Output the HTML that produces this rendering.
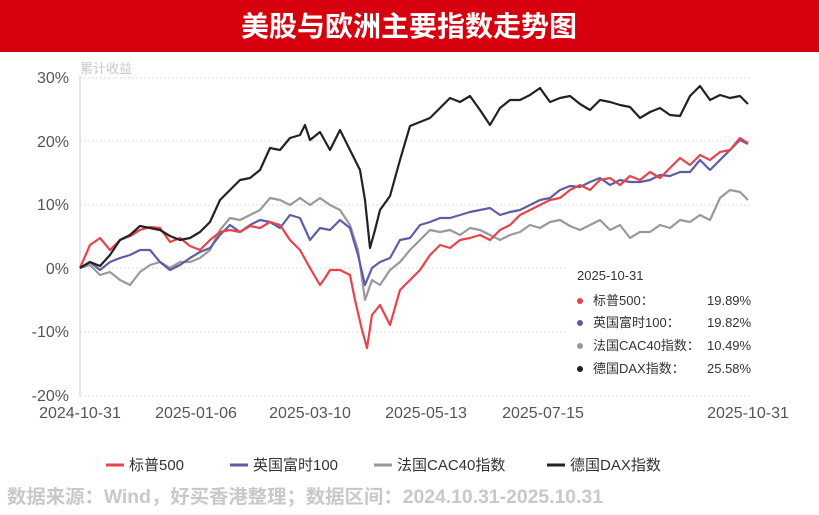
<!DOCTYPE html><html><head><meta charset="utf-8"><style>
body{margin:0;width:819px;height:510px;background:#fff;overflow:hidden;font-family:"Liberation Sans","Noto Sans CJK SC",sans-serif}
</style></head><body>
<svg width="819" height="510" xmlns="http://www.w3.org/2000/svg" font-family="Liberation Sans, Noto Sans CJK SC, sans-serif">
<rect x="0" y="0" width="819" height="52" fill="#d7000f"/>
<text x="409" y="36" text-anchor="middle" fill="#fff" font-size="28" font-weight="bold">美股与欧洲主要指数走势图</text>
<text x="80" y="73" fill="#c8c8c8" font-size="13">累计收益</text>
<g stroke="#ddd" stroke-dasharray="2,2" stroke-width="1">
<line x1="80" x2="750" y1="78" y2="78"/><line x1="80" x2="750" y1="141" y2="141"/><line x1="80" x2="750" y1="205" y2="205"/><line x1="80" x2="750" y1="268" y2="268"/><line x1="80" x2="750" y1="332" y2="332"/><line x1="80" x2="750" y1="396" y2="396"/>
</g>
<line x1="80" x2="80" y1="76" y2="396" stroke="#ddd" stroke-width="1.5"/>
<g fill="#555" font-size="16" text-anchor="end">
<text x="69" y="83">30%</text><text x="69" y="147">20%</text><text x="69" y="210">10%</text><text x="69" y="274">0%</text><text x="69" y="337">-10%</text><text x="69" y="401">-20%</text></g>
<g fill="#555" font-size="16" text-anchor="middle">
<text x="80" y="418">2024-10-31</text><text x="196" y="418">2025-01-06</text><text x="310" y="418">2025-03-10</text><text x="426" y="418">2025-05-13</text><text x="543" y="418">2025-07-15</text><text x="748" y="418">2025-10-31</text></g>
<g fill="none" stroke-width="2.2" stroke-linejoin="round">
<polyline stroke="#999" points="80,268 90,265 100,275 110,272 120,280 130,285 140,272 150,265 160,262 170,268 180,262 190,262 200,258 210,250 220,230 230,218 240,220 250,215 260,210 270,198 280,200 290,205 300,198 310,205 320,198 330,205 340,210 350,225 358,250 365,300 372,280 380,285 390,270 400,262 410,250 420,240 430,230 440,232 450,230 460,235 470,228 480,230 490,235 500,240 510,235 520,232 530,225 540,228 550,222 560,220 570,226 580,230 590,225 600,220 610,230 620,225 630,238 640,232 650,232 660,225 670,228 680,220 690,222 700,215 710,220 720,198 730,190 740,192 748,200"/>
<polyline stroke="#5b5ea6" points="80,268 90,262 100,270 110,262 120,258 130,255 140,250 150,250 160,262 170,270 180,265 190,258 200,252 210,248 220,235 230,225 240,232 250,225 260,220 270,222 280,228 290,215 300,218 310,240 320,228 330,230 340,220 350,228 358,255 365,285 372,268 380,262 390,258 400,240 410,238 420,225 430,222 440,218 450,218 460,215 470,212 480,210 490,208 500,215 510,212 520,210 530,205 540,200 550,198 560,190 570,186 580,187 590,182 600,178 610,185 620,180 630,182 640,182 650,180 660,175 670,176 680,172 690,172 700,160 710,170 720,160 730,150 740,140 748,144"/>
<polyline stroke="#e8424a" points="80,268 90,245 100,238 110,250 120,240 130,236 140,230 150,227 160,228 170,242 180,238 190,246 200,250 210,240 220,232 230,230 240,232 250,226 260,228 270,222 280,225 290,240 300,250 310,268 320,285 325,278 330,270 340,270 350,275 355,300 362,330 367,348 372,315 380,305 390,325 400,290 410,280 420,270 430,255 440,245 450,248 460,240 470,238 480,235 490,240 500,230 510,225 520,215 530,210 540,205 550,200 560,198 570,190 580,185 590,190 600,180 610,178 620,185 630,176 640,180 650,172 660,178 670,168 680,158 690,165 700,155 710,160 720,152 730,150 740,138 748,143"/>
<polyline stroke="#222" points="80,268 90,262 100,266 110,255 120,240 130,235 140,226 150,228 160,230 170,236 180,240 190,238 200,232 210,222 220,200 230,190 240,180 250,178 260,170 270,148 280,150 290,138 300,135 305,125 310,140 320,132 330,150 340,130 350,150 355,160 360,170 365,200 370,248 375,230 380,210 390,196 400,160 410,126 420,122 430,118 440,108 450,98 460,102 470,96 480,110 490,125 500,108 510,100 520,100 530,95 540,88 550,102 560,98 570,96 580,104 590,110 600,100 610,102 620,105 630,107 640,118 650,112 660,108 670,115 680,116 690,96 700,86 710,100 720,95 730,98 740,96 748,104"/>
</g>
<rect x="566" y="262" width="196" height="132" fill="#fff" fill-opacity="0.9"/>
<g font-size="13" fill="#333">
<text x="577" y="280">2025-10-31</text>
<circle cx="580" cy="301" r="3" fill="#e8424a"/><text x="593" y="305">标普500：</text><text x="707" y="305">19.89%</text>
<circle cx="580" cy="323" r="3" fill="#5b5ea6"/><text x="593" y="327">英国富时100：</text><text x="707" y="327">19.82%</text>
<circle cx="580" cy="346" r="3" fill="#999"/><text x="593" y="350">法国CAC40指数：</text><text x="707" y="350">10.49%</text>
<circle cx="580" cy="369" r="3" fill="#222"/><text x="593" y="373">德国DAX指数：</text><text x="707" y="373">25.58%</text>
</g>
<g font-size="15" fill="#333">
<line x1="106" x2="124" y1="465" y2="465" stroke="#e8424a" stroke-width="3"/><text x="129" y="470">标普500</text>
<line x1="230" x2="248" y1="465" y2="465" stroke="#5b5ea6" stroke-width="3"/><text x="253" y="470">英国富时100</text>
<line x1="374" x2="392" y1="465" y2="465" stroke="#999" stroke-width="3"/><text x="397" y="470">法国CAC40指数</text>
<line x1="547" x2="565" y1="465" y2="465" stroke="#222" stroke-width="3"/><text x="570" y="470">德国DAX指数</text>
</g>
<text x="7" y="503" font-size="19" font-weight="bold" fill="#c8c8c8" textLength="596" lengthAdjust="spacingAndGlyphs">数据来源：Wind，好买香港整理；数据区间：2024.10.31-2025.10.31</text>
</svg>
</body></html>
